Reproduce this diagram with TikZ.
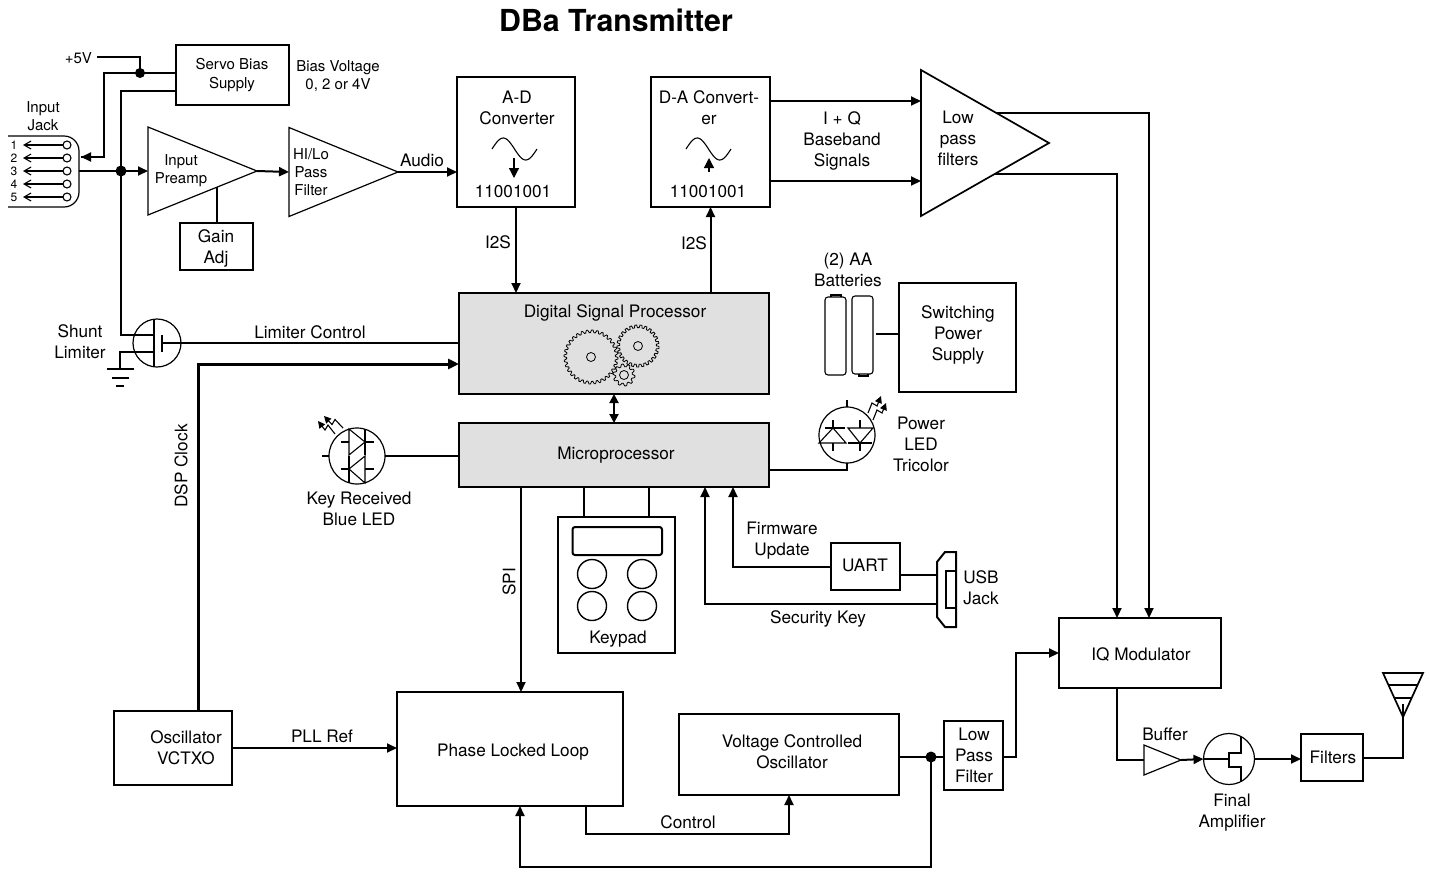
\documentclass[tikz,border=0pt]{standalone}
\usepackage{fontspec}
\setmainfont{TeX Gyre Heros}
\usetikzlibrary{arrows.meta,shapes.geometric}
\tikzset{
  box/.style={draw,line width=1.7pt,inner sep=0pt,outer sep=0pt,align=center},
  graybox/.style={box,fill=black!12},
  amp/.style={draw,line width=1.2pt,isosceles triangle,isosceles triangle stretches,shape border rotate=0,inner sep=0pt,outer sep=0pt},
  disc/.style={draw,circle,line width=1.2pt,inner sep=0pt,outer sep=0pt},
  dot/.style={fill=black,circle,inner sep=0pt,minimum size=11pt},
  txt/.style={inner sep=0pt,outer sep=0pt,align=center},
  small/.style={font=\fontsize{15}{18.3}\selectfont},
  wire/.style={line width=2pt},
  thick wire/.style={line width=3pt},
  thin wire/.style={line width=1.2pt},
  sig/.style={wire,-{Triangle[length=10pt,width=9pt]}},
  fine/.style={line width=1.1pt}
}
\begin{document}
\begin{tikzpicture}[x=1pt,y=-1pt,font=\fontsize{17.2}{21}\selectfont]
\useasboundingbox (0,0) rectangle (1430,871);
\node[txt,font=\fontsize{30.3}{34}\bfseries\selectfont] (title) at (616,20) {DBa Transmitter};

% boxes
\node[box,minimum width=113pt,minimum height=60pt] (servo) at (232.5,75) {};
\node[box,minimum width=73pt,minimum height=47pt] (gain) at (216.5,246.5) {};
\node[box,minimum width=118pt,minimum height=130pt] (ad) at (516,142) {};
\node[box,minimum width=119pt,minimum height=130pt] (da) at (710.5,142) {};
\node[graybox,minimum width=310pt,minimum height=101pt] (dsp) at (614,343.5) {};
\node[graybox,minimum width=310pt,minimum height=64pt] (mcu) at (614,455) {};
\node[box,minimum width=117pt,minimum height=109pt] (supply) at (957.5,337.5) {};
\node[box,minimum width=117pt,minimum height=136pt] (keypad) at (616.5,585) {};
\node[box,minimum width=69pt,minimum height=47pt] (uart) at (865.5,566.5) {};
\node[box,minimum width=226pt,minimum height=114pt] (pll) at (510,749) {};
\node[box,minimum width=118pt,minimum height=74pt] (osc) at (173,748) {};
\node[box,minimum width=220pt,minimum height=81pt] (vco) at (789,754.5) {};
\node[box,minimum width=59pt,minimum height=69pt] (lpf) at (973.5,755.5) {};
\node[box,minimum width=162pt,minimum height=70pt] (iq) at (1140,653) {};
\node[box,minimum width=62pt,minimum height=47pt] (filters) at (1332,757.5) {};

% amplifiers
\node[amp,minimum width=88pt,minimum height=109pt,anchor=lower side] (preamp) at (148,171) {};
\node[amp,minimum width=89pt,minimum height=109pt,anchor=lower side] (hilo) at (289,172) {};
\node[amp,line width=1.7pt,minimum width=146pt,minimum height=128pt,anchor=lower side] (lowpass) at (921,143) {};
\node[amp,minimum width=30pt,minimum height=37pt,anchor=lower side] (buffer) at (1144,760) {};

% round symbols
\node[disc,minimum size=48pt] (shunt) at (157,343) {};
\node[disc,minimum size=56pt] (keyled) at (357,456) {};
\node[disc,minimum size=56pt] (powerled) at (847,435) {};
\node[disc,minimum size=51pt] (final) at (1229,759) {};

% dots
\node[dot,minimum size=10pt] (biasdot) at (140,73) {};
\node[dot] (inputdot) at (121,171) {};
\node[dot] (vcodot) at (931,757) {};

% labels
\node[txt,small] (servolabel) at (232,75) {Servo Bias\\Supply};
\node[txt,small] (biaslabel) at (338,76) {Bias Voltage\\0, 2 or 4V};
\node[txt,small,anchor=east] (fivev) at (92,58) {+5V};
\node[txt,small] (jacklabel) at (43,116) {Input\\Jack};
\node[txt,small] (preamplabel) at (181,171) {Input\\Preamp};
\node[txt,small] (hilolabel) at (311,172) {HI/Lo\\Pass\\Filter};
\node[txt] (gainlabel) at (216,248) {Gain\\Adj};
\node[txt] (audiolabel) at (422,160) {Audio};
\node[txt] (adlabel) at (517,108) {A-D\\Converter};
\node[txt] (dalabel) at (709,108) {D-A Convert-\\er};
\node[txt] (adbits) at (513,192) {11001001};
\node[txt] (dabits) at (708,192) {11001001};
\node[txt] (adbus) at (498,242) {I2S};
\node[txt] (dabus) at (694,243) {I2S};
\node[txt] (basebandlabel) at (842,141) {I + Q\\Baseband\\Signals};
\node[txt] (lowpasslabel) at (958,138) {Low\\pass\\filters};
\node[txt] (dsplabel) at (615,313) {Digital Signal Processor};
\node[txt] (mculabel) at (616,455) {Microprocessor};
\node[txt] (batterylabel) at (848,270) {(2) AA\\Batteries};
\node[txt] (supplylabel) at (958,335) {Switching\\Power\\Supply};
\node[txt] (powerledlabel) at (921,444) {Power\\LED\\Tricolor};
\node[txt] (shuntlabel) at (80,342) {Shunt\\Limiter};
\node[txt] (limiterlabel) at (310,332) {Limiter Control};
\node[txt,rotate=90] (clocklabel) at (181,466) {DSP Clock};
\node[txt] (keyledlabel) at (359,509) {Key Received\\Blue LED};
\node[txt,rotate=90] (spilabel) at (509,582) {SPI};
\node[txt] (keypadlabel) at (618,639) {Keypad};
\node[txt] (firmwarelabel) at (782,541) {Firmware\\Update};
\node[txt] (uartlabel) at (865,565) {UART};
\node[txt] (usblabel) at (981,588) {USB\\Jack};
\node[txt] (securitylabel) at (818,619) {Security Key};
\node[txt] (pllreflabel) at (322,736) {PLL Ref};
\node[txt] (plllabel) at (513,752) {Phase Locked Loop};
\node[txt] (osclabel) at (186,748) {Oscillator\\VCTXO};
\node[txt] (vcolabel) at (792,752) {Voltage Controlled\\Oscillator};
\node[txt] (controllabel) at (688,822) {Control};
\node[txt] (lpflabel) at (974,755) {Low\\Pass\\Filter};
\node[txt] (iqlabel) at (1141,655) {IQ Modulator};
\node[txt] (bufferlabel) at (1165,734) {Buffer};
\node[txt] (filterslabel) at (1333,757) {Filters};
\node[txt] (finallabel) at (1232,813) {Final\\Amplifier};

% input jack
\draw[line width=1.2pt,rounded corners=15pt] (8,136) -- (79,136) -- (79,207) -- (8,207);
\foreach[count=\i] \y in {145,158,171,184,197} {
  \node[disc,fine,minimum size=8pt] (pin\i) at (67,\y) {};
  \node[txt,font=\fontsize{12}{12}\selectfont] (num\i) at (14,\y) {\i};
  \draw[fine,-{Straight Barb[length=7pt,width=8pt]}] (pin\i) -- (23,\y);
}

% converters
\foreach \sx in {492,686}
  \draw[fine,shift={(\sx,149)}] plot[samples=40,domain=0:360,smooth] ({\x/8},{-11*sin(\x)});
\draw[thin wire,-{Triangle[length=10pt,width=10pt]}] (514,158) -- (514,178);
\draw[thin wire,-{Triangle[length=10pt,width=10pt]}] (709,172) -- (709,158);

% gears
\foreach \gx/\gy/\gr/\gn in {591/357/25.7/32,638/346/19.7/25,624/375/9.7/10} {
  \draw[line width=.8pt,fill=black!12,shift={(\gx,\gy)}] plot[samples=\gn*8+1,domain=0:360] (\x:{\gr+1.3*sign(sin(\gn*\x))}) -- cycle;
  \draw[line width=.8pt] (\gx,\gy) circle (4.5);
}

% batteries
\draw[fine,rounded corners=3pt] (825,297) rectangle (846,375);
\draw[fine,rounded corners=3pt] (852,296) rectangle (873,374);
\draw[fine] (831,297) -- (831,295) -- (841,295) -- (841,297);
\draw[fine] (859,374) -- (859,376) -- (868,376) -- (868,374);
\coordinate (battery) at (876,334);
\draw[wire] (battery) -- (battery -| supply.west);

% keypad
\draw[wire,rounded corners=2.5pt] (572.5,527) rectangle (662,555);
\foreach \cx in {592,642}
  \foreach \cy in {574,606}
    \draw[line width=1.4pt] (\cx,\cy) circle (14.5);
\coordinate (keyleft) at (584,517);
\coordinate (keyright) at (649,517);
\draw[wire] (keyleft) -- (keyleft |- mcu.south);
\draw[wire] (keyright) -- (keyright |- mcu.south);

% usb jack
\draw[wire] (956,552) -- (945,552) -- (937,562) -- (937,617) -- (945,627) -- (956,627) -- cycle;
\draw[wire] (956,571) -- (946,571) -- (946,608) -- (956,608);
\coordinate (usbuart) at (937,575);
\coordinate (usbkey) at (937,604);

% shunt limiter
\draw[thin wire] (154,320) -- (154,367);
\draw[thin wire] (162,335) -- (162,352);
\draw[thin wire] (135,335) -- (154,335);
\coordinate (shuntsource) at (135,335);
\coordinate (shuntgate) at (162,343);
\coordinate (ground) at (120,369);
\draw[thin wire] (154,352) -- (120,352) -- (ground);
\draw[thin wire] (107,369) -- (134,369);
\draw[thin wire] (112,378) -- (129,378);
\draw[thin wire] (116,386) -- (124,386);

% key led
\draw[fine] (322,456) -- (keyled.west);
\draw[fine] (349,429) -- (349,455) -- (365,442) -- cycle;
\draw[fine] (365,429) -- (365,455);
\draw[fine] (341,442) -- (349,442) (365,442) -- (374,442);
\draw[fine] (365,456) -- (365,483) -- (349,469) -- cycle;
\draw[fine] (349,456) -- (349,483);
\draw[fine] (341,469) -- (349,469) (365,469) -- (374,469);
\foreach \tx/\ty/\hx/\hy in {335/434/318/421,343/428/324/416}
  \draw[fine,-{Triangle[length=7pt,width=7pt]}] (\tx,\ty) -- ({(\tx+\hx)/2+1.5},{(\ty+\hy)/2-2.5}) -- ({(\tx+\hx)/2-1.5},{(\ty+\hy)/2+2.5}) -- (\hx,\hy);

% power led
\draw[fine] (847,400) -- (powerled.north);
\draw[fine] (833,428) -- (819,443) -- (846,443) -- cycle;
\draw[fine] (825,428) -- (845,428);
\draw[fine] (848,428) -- (873,428) -- (860,443) -- cycle;
\draw[fine] (848,443) -- (872,443);
\draw[fine] (833,420) -- (833,428) (833,443) -- (833,451);
\draw[fine] (860,420) -- (860,428) (860,443) -- (860,451);
\foreach \tx/\ty/\hx/\hy in {868/413/881/396,873/420/886/403}
  \draw[fine,-{Triangle[length=7pt,width=7pt]}] (\tx,\ty) -- ({(\tx+\hx)/2-2.5},{(\ty+\hy)/2-1.5}) -- ({(\tx+\hx)/2+2.5},{(\ty+\hy)/2+1.5}) -- (\hx,\hy);

% final amplifier
\draw[fine] (final.west) -- (1229,759);
\draw[wire] (1229,752) -- (1229,768);
\draw[wire] (1229,753) -- (1241,753) -- (1241,737);
\draw[wire] (1229,767) -- (1241,767) -- (1241,782);

% antenna
\draw[line width=1.7pt] (1383,673) -- (1423,673) -- (1403,717) -- cycle;
\draw[fine] (1388.5,685) -- (1417.5,685) (1394,698) -- (1412,698) (1403,704) -- (1403,717);
\coordinate (antenna) at (1403,717);

% supply and input
\coordinate (fivevend) at (97,57);
\coordinate (servobias) at (176,73);
\coordinate (servosense) at (176,91);
\coordinate (jackbias) at (81,157);
\coordinate (jackout) at (79,171);
\draw[wire] (fivevend) -| (biasdot.center);
\draw[wire] (servobias) -- (104,73) |- (jackbias);
\draw[sig] (104,157) -- (jackbias);
\draw[wire] (servosense) -| (inputdot.center);
\draw[thin wire] (inputdot.center) |- (shuntsource);
\draw[sig] (jackout) -- (preamp.lower side);
\draw[sig] (preamp.apex) -- (hilo.lower side);
\coordinate (gaintap) at (217,187);
\draw[wire] (gaintap) -- (gaintap |- gain.north);
\draw[sig] (hilo.apex) -- (ad.west |- hilo.apex);

% signal path
\draw[sig] (ad.south) -- (ad.south |- dsp.north);
\draw[sig] (da.south |- dsp.north) -- (da.south);
\draw[wire,{Triangle[length=9pt,width=9pt]}-{Triangle[length=9pt,width=9pt]}] (dsp.south) -- (mcu.north);
\coordinate (datop) at (770,101);
\coordinate (dabottom) at (770,181);
\draw[sig] (datop) -- (datop -| lowpass.lower side);
\draw[sig] (dabottom) -- (dabottom -| lowpass.lower side);
\coordinate (lowtop) at (997,113);
\coordinate (lowbottom) at (995,174);
\coordinate (iqright) at (1149,618);
\coordinate (iqleft) at (1117,618);
\draw[sig] (lowtop) -| (iqright);
\draw[sig] (lowbottom) -| (iqleft);
\draw[wire] (shuntgate) -- (shuntgate -| dsp.west);
\coordinate (oscout) at (198,711);
\coordinate (dspclock) at (459,364);
\draw[thick wire,-{Triangle[length=11pt,width=10pt]}] (oscout) |- (dspclock);
\draw[thin wire] (keyled.east) -- (keyled.east -| mcu.west);
\coordinate (powerin) at (770,470);
\draw[thin wire] (powerin) -| (powerled.south);

% control and clock
\coordinate (spitop) at (521,487);
\draw[sig] (spitop) -- (spitop |- pll.north);
\coordinate (mcufirm) at (733,487);
\coordinate (mcukey) at (705,487);
\draw[sig] (uart.west) -| (mcufirm);
\draw[sig] (usbkey) -| (mcukey);
\draw[wire] (usbuart) -- (usbuart -| uart.east);
\draw[sig] (osc.east) -- (osc.east -| pll.west);
\coordinate (pllcontrol) at (586,806);
\coordinate (vcocontrol) at (789,795);
\draw[sig] (pllcontrol) |- (688,834) -| (vcocontrol);
\coordinate (vcoout) at (899,757);
\coordinate (pllfeedback) at (520,806);
\draw[wire] (vcoout) -- (vcoout -| lpf.west);
\draw[sig] (vcodot.center) |- (725,867) -| (pllfeedback);
\coordinate (lpfout) at (1003,757);
\draw[sig] (lpfout) -- (1016,757) |- (iq.west);
\coordinate (iqout) at (1117,688);
\draw[wire] (iqout) |- (buffer.lower side);
\draw[sig] (buffer.apex) -- (final.west);
\draw[sig] (final.east) -- (final.east -| filters.west);
\draw[wire] (filters.east) -| (antenna);
\end{tikzpicture}
\end{document}
